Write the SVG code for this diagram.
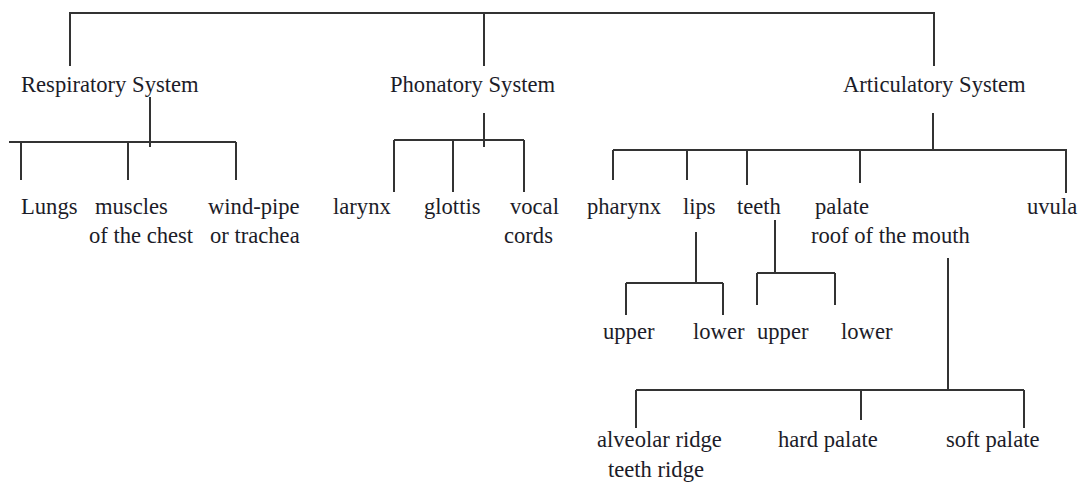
<svg xmlns="http://www.w3.org/2000/svg" width="1079" height="483" viewBox="0 0 1079 483">
  <style>
    .lbl { font-family: "Liberation Serif", "Times New Roman", serif; font-size: 22.6px; fill: #1c1c28; }
    .ln { stroke: #333; stroke-width: 2; fill: none; stroke-linecap: butt; }
  </style>
  <rect width="1079" height="483" fill="#fff"/>

  <!-- tree connectors -->
  <g id="connectors" class="ln">
    <!-- root -->
    <path d="M70 66 V13 H934 V66 M484 13 V66"/>
    <!-- respiratory -->
    <path d="M150 97 V147 M9 142 H236 M21 142 V180 M128 142 V180 M236 142 V180"/>
    <!-- phonatory -->
    <path d="M484 113 V147 M394 140 H524 M394 140 V192 M453 140 V192 M524 140 V192"/>
    <!-- articulatory -->
    <path d="M933 113 V150 M613 150 H1067 M613 150 V180 M687 150 V180 M747 150 V185 M860 150 V183 M1066 150 V193"/>
    <!-- lips -->
    <path d="M696 232 V283 M626 283 H723 M626 283 V315 M723 283 V315"/>
    <!-- teeth -->
    <path d="M775 220 V273 M757 273 H835 M757 273 V305 M835 273 V305"/>
    <!-- palate -->
    <path d="M948 258 V390 M636 390 H1024 M636 390 V428 M861 390 V420 M1024 390 V428"/>
  </g>

  <g id="respiratory"><text class="lbl" x="21" y="92">Respiratory System</text></g>
  <g id="phonatory"><text class="lbl" x="390" y="92">Phonatory System</text></g>
  <g id="articulatory"><text class="lbl" x="843" y="92">Articulatory System</text></g>

  <g id="lungs"><text class="lbl" x="21" y="214">Lungs</text></g>
  <g id="muscles"><text class="lbl" x="95" y="214">muscles</text><text class="lbl" x="89" y="243">of the chest</text></g>
  <g id="windpipe"><text class="lbl" x="208" y="214">wind-pipe</text><text class="lbl" x="210" y="243">or trachea</text></g>

  <g id="larynx"><text class="lbl" x="333" y="214">larynx</text></g>
  <g id="glottis"><text class="lbl" x="424" y="214">glottis</text></g>
  <g id="vocal"><text class="lbl" x="510" y="214">vocal</text><text class="lbl" x="504" y="243">cords</text></g>

  <g id="pharynx"><text class="lbl" x="587" y="214">pharynx</text></g>
  <g id="lips"><text class="lbl" x="683" y="214">lips</text></g>
  <g id="teeth"><text class="lbl" x="737" y="214">teeth</text></g>
  <g id="palate"><text class="lbl" x="815" y="214">palate</text><text class="lbl" x="811" y="243">roof of the mouth</text></g>
  <g id="uvula"><text class="lbl" x="1027" y="214">uvula</text></g>

  <g id="lips-upper"><text class="lbl" x="603" y="339">upper</text></g>
  <g id="lips-lower"><text class="lbl" x="693" y="339">lower</text></g>
  <g id="teeth-upper"><text class="lbl" x="757" y="339">upper</text></g>
  <g id="teeth-lower"><text class="lbl" x="841" y="339">lower</text></g>

  <g id="alveolar"><text class="lbl" x="597" y="447">alveolar ridge</text><text class="lbl" x="608" y="477">teeth ridge</text></g>
  <g id="hard-palate"><text class="lbl" x="778" y="447">hard palate</text></g>
  <g id="soft-palate"><text class="lbl" x="946" y="447">soft palate</text></g>
</svg>
